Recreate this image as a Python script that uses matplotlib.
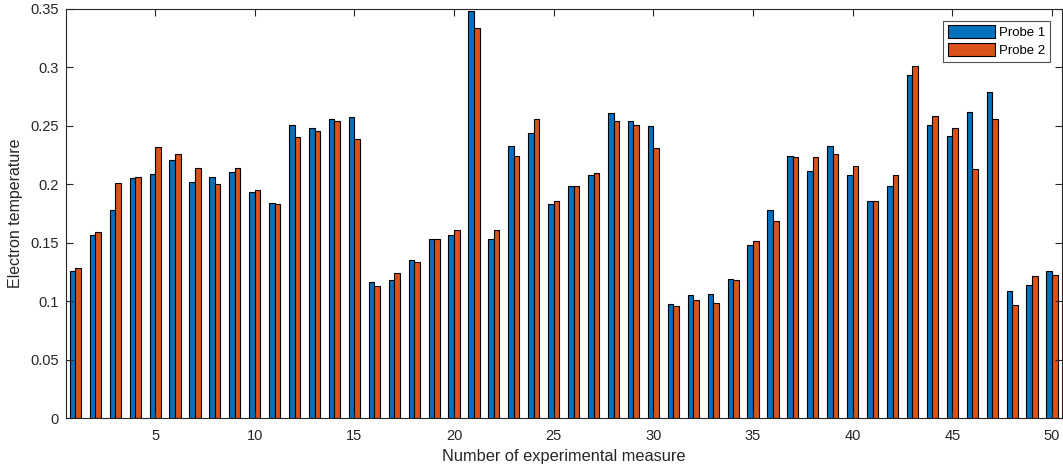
import numpy as np
import matplotlib
matplotlib.use("Agg")
import matplotlib.pyplot as plt
from matplotlib.ticker import FuncFormatter

measure = np.arange(1, 51)
probe_1 = [0.1255, 0.1563, 0.1783, 0.2051, 0.2091, 0.2205, 0.2022, 0.2060, 0.2108, 0.1937,
           0.1840, 0.2510, 0.2485, 0.2562, 0.2579, 0.1161, 0.1181, 0.1355, 0.1535, 0.1563,
           0.3480, 0.1535, 0.2331, 0.2436, 0.1831, 0.1983, 0.2082, 0.2607, 0.2539, 0.2502,
           0.0978, 0.1055, 0.1064, 0.1189, 0.1478, 0.1783, 0.2245, 0.2111, 0.2331, 0.2082,
           0.1860, 0.1985, 0.2932, 0.2510, 0.2416, 0.2616, 0.2790, 0.1084, 0.1141, 0.1255]
probe_2 = [0.1287, 0.1592, 0.2014, 0.2060, 0.2322, 0.2262, 0.2137, 0.2005, 0.2137, 0.1954,
           0.1831, 0.2407, 0.2453, 0.2539, 0.2388, 0.1132, 0.1238, 0.1332, 0.1535, 0.1612,
           0.3335, 0.1612, 0.2245, 0.2562, 0.1860, 0.1983, 0.2099, 0.2539, 0.2510, 0.2311,
           0.0958, 0.1007, 0.0987, 0.1178, 0.1515, 0.1689, 0.2234, 0.2234, 0.2262, 0.2157,
           0.1860, 0.2080, 0.3009, 0.2587, 0.2485, 0.2128, 0.2562, 0.0970, 0.1218, 0.1227]
series_names = ["Probe 1", "Probe 2"]
x_ticks = np.arange(5, 51, 5)
y_ticks = np.arange(0, 0.351, 0.05)

plt.rcParams["font.family"] = ["Liberation Sans", "DejaVu Sans"]
text_color = "#262626"

fig = plt.figure(figsize=(10.63, 4.68), dpi=100)
ax = fig.add_axes([0.0621, 0.1068, 0.9369, 0.874])

w = 0.28
ax.bar(measure - w / 2, probe_1, width=w, color="#0072BD", edgecolor="black", linewidth=0.8, label=series_names[0])
ax.bar(measure + w / 2, probe_2, width=w, color="#D95319", edgecolor="black", linewidth=0.8, label=series_names[1])

ax.set_xlim(0.53, 50.5)
ax.set_ylim(0, 0.35)
ax.set_xticks(x_ticks)
ax.set_yticks(y_ticks)
ax.yaxis.set_major_formatter(FuncFormatter(lambda v, p: "%g" % round(v, 2)))
ax.tick_params(direction="in", top=True, right=True, length=5, width=0.8,
               labelsize=10.5, colors=text_color, pad=5)
ax.tick_params(axis="x", pad=8)
for s in ax.spines.values():
    s.set_color(text_color)
    s.set_linewidth(0.8)

ax.set_xlabel("Number of experimental measure", fontsize=11.8, color=text_color, labelpad=4)
ax.set_ylabel("Electron temperature", fontsize=11.5, color=text_color, labelpad=5)

leg = ax.legend(loc="upper right", fontsize=9.5, frameon=True, fancybox=False,
                edgecolor=text_color, handlelength=3.6, handleheight=1.1,
                borderaxespad=0.9, labelspacing=0.3, handletextpad=0.3,
                borderpad=0.35)
leg.get_frame().set_linewidth(0.8)

fig.savefig("out.png", dpi=100)
